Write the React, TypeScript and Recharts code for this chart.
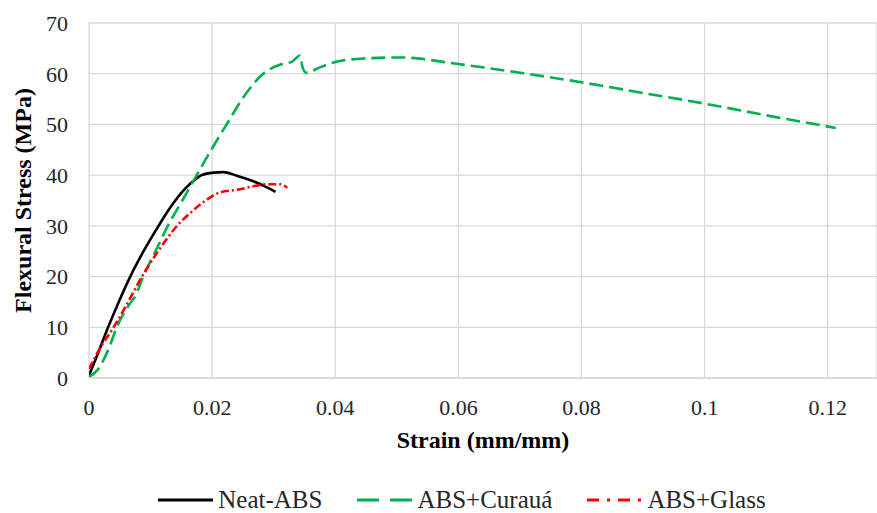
import { LineChart, Line, XAxis, YAxis, CartesianGrid } from "recharts";

const FONT = '"Liberation Serif", "Times New Roman", serif';
const GRID = "#d9d9d9";
const TEXT = "#262626";

const xTicks = [0, 0.02, 0.04, 0.06, 0.08, 0.1, 0.12];
const yTicks = [0, 10, 20, 30, 40, 50, 60, 70];

const neatStrain = [0, 0.0015, 0.0031, 0.0049, 0.0067, 0.009, 0.0113, 0.0132, 0.015, 0.0167, 0.0183, 0.0202, 0.0218, 0.024, 0.0267, 0.0289, 0.0303];
const neatStress = [0.5, 5, 10, 15.2, 20, 25.3, 30, 33.6, 36.5, 38.6, 40, 40.5, 40.6, 39.9, 38.8, 37.6, 36.7];

const curauaStrain = [0, 0.0017, 0.0033, 0.0045, 0.0066, 0.0075, 0.0088, 0.0108, 0.0128, 0.0152, 0.0175, 0.02, 0.0224, 0.0251, 0.0283, 0.0311, 0.033, 0.0343, 0.0347, 0.0353, 0.0376, 0.0403, 0.0446, 0.0506, 0.06, 0.07, 0.08, 0.09, 0.1, 0.11, 0.1213];
const curauaStress = [0.2, 2.1, 6.1, 10, 14.6, 16.1, 20, 25, 30, 35.1, 40, 45.3, 50.1, 55.4, 60, 61.8, 62.4, 63.6, 61.2, 60.2, 61.3, 62.4, 63, 63.2, 61.9, 60.2, 58.3, 56.2, 54.1, 51.8, 49.3];

const glassStrain = [0, 0.0019, 0.004, 0.006, 0.0086, 0.0114, 0.0143, 0.0165, 0.0186, 0.0213, 0.024, 0.0267, 0.0289, 0.0311, 0.0322];
const glassStress = [1.8, 6.1, 10, 14.2, 20, 25.3, 30, 32.6, 34.7, 36.6, 37.1, 37.8, 38.2, 38.2, 37.5];

const zip = (xs: number[], ys: number[]) => xs.map((x, i) => ({ x, y: ys[i] }));

const series = [
  { name: "Neat-ABS", data: zip(neatStrain, neatStress), color: "#000000", dash: undefined, legendDash: undefined },
  { name: "ABS+Curauá", data: zip(curauaStrain, curauaStress), color: "#00b050", dash: "14 6", legendDash: "22 11" },
  { name: "ABS+Glass", data: zip(glassStrain, glassStress), color: "#ff0000", dash: "8 3 2 3", legendDash: "12 8 3 8" },
];

function LegendRow() {
  return (
    <div
      style={{
        position: "absolute",
        left: 0,
        top: 487,
        width: 877,
        display: "flex",
        justifyContent: "center",
        gap: 35,
        fontFamily: FONT,
        fontSize: 25,
        color: TEXT,
        lineHeight: "26px",
        paddingLeft: 47,
        boxSizing: "border-box",
      }}
    >
      {series.map((s) => (
        <div key={s.name} style={{ display: "flex", alignItems: "center", gap: 5 }}>
          <svg width={55} height={6}>
            <line x1={0} y1={3} x2={55} y2={3} stroke={s.color} strokeWidth={3} strokeDasharray={s.legendDash} />
          </svg>
          <span>{s.name}</span>
        </div>
      ))}
    </div>
  );
}

export default function App() {
  return (
    <div style={{ position: "absolute", left: 0, top: 0, width: 877, height: 513, background: "#fff" }}>
      <LineChart width={877} height={513} margin={{ top: 23, right: 0, left: 0, bottom: 0 }}>
        <CartesianGrid stroke={GRID} strokeWidth={1.3} />
        <XAxis
          type="number"
          dataKey="x"
          domain={[0, 0.128]}
          ticks={xTicks}
          allowDataOverflow
          height={135}
          tickSize={0}
          tickMargin={21}
          tick={{ fontSize: 22, fill: TEXT, fontFamily: FONT }}
          axisLine={{ stroke: GRID, strokeWidth: 1.3 }}
          tickLine={false}
          label={{
            value: "Strain (mm/mm)",
            position: "insideTop",
            offset: 53,
            style: { fontSize: 24, fontWeight: "bold", fill: "#000", fontFamily: FONT },
          }}
        />
        <YAxis
          type="number"
          domain={[0, 70]}
          ticks={yTicks}
          width={89}
          tickSize={0}
          tickMargin={21}
          tick={{ fontSize: 22, fill: TEXT, fontFamily: FONT }}
          axisLine={false}
          tickLine={false}
          label={{
            value: "Flexural Stress (MPa)",
            angle: -90,
            position: "insideLeft",
            offset: 22,
            style: { fontSize: 24, fontWeight: "bold", fill: "#000", fontFamily: FONT, textAnchor: "middle" },
          }}
        />
        {series.map((s) => (
          <Line
            key={s.name}
            data={s.data}
            dataKey="y"
            name={s.name}
            type="monotone"
            stroke={s.color}
            strokeWidth={2.6}
            strokeDasharray={s.dash}
            dot={false}
            isAnimationActive={false}
          />
        ))}
      </LineChart>
      <LegendRow />
    </div>
  );
}
